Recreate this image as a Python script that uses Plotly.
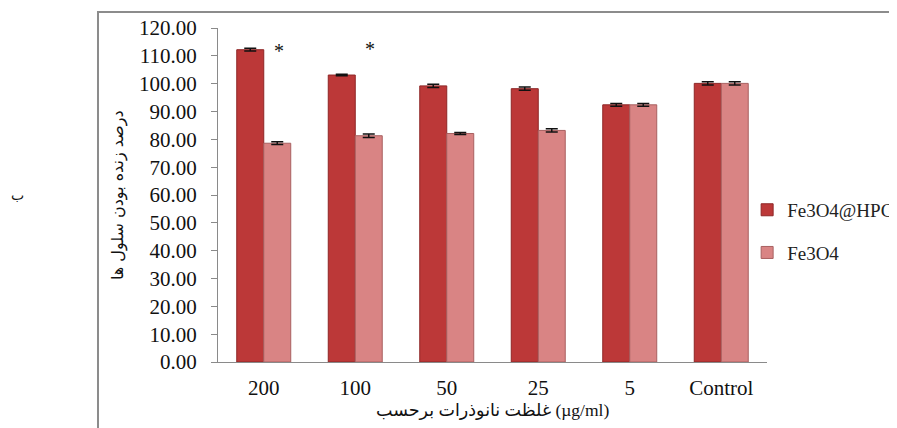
import plotly.graph_objects as go

categories = ["200", "100", "50", "25", "5", "Control"]
hpg_values = [112.2, 103.1, 99.2, 98.2, 92.4, 100.1]
hpg_errors = [0.5, 0.3, 0.6, 0.6, 0.5, 0.6]
fe_values = [78.6, 81.3, 82.1, 83.2, 92.4, 100.1]
fe_errors = [0.5, 0.6, 0.4, 0.6, 0.5, 0.6]
y_ticks = [0, 10, 20, 30, 40, 50, 60, 70, 80, 90, 100, 110, 120]
y_tick_labels = ["%.2f" % v for v in y_ticks]
star_positions = [0, 1]
star_levels = [111.6, 112.3]

serif = "Liberation Serif"
arabic = "DejaVu Sans"

fig = go.Figure()
fig.add_trace(go.Bar(
    x=categories, y=hpg_values, name="Fe3O4@HPG",
    marker=dict(color="#BC3838", line=dict(color="#8E2626", width=1)),
    error_y=dict(type="data", array=hpg_errors, color="#111111", thickness=1.5, width=6),
    legendgroup="a",
))
fig.add_trace(go.Bar(
    x=categories, y=fe_values, name="Fe3O4",
    marker=dict(color="#D98484", line=dict(color="#A86060", width=1)),
    error_y=dict(type="data", array=fe_errors, color="#111111", thickness=1.5, width=6),
    legendgroup="b",
))

fig.update_layout(
    width=897, height=428,
    margin=dict(l=210, r=138, t=20, b=74, autoexpand=False),
    paper_bgcolor="white", plot_bgcolor="white",
    barmode="group", bargap=0.41, bargroupgap=0,
    font=dict(family=serif, color="#111111", size=18),
    showlegend=True,
    legend=dict(
        x=0.824, y=0.478, xref="container", yref="container",
        xanchor="left", yanchor="middle",
        font=dict(family=serif, size=19, color="#222222"),
        itemwidth=30, traceorder="grouped", tracegroupgap=15,
        bgcolor="rgba(0,0,0,0)",
    ),
    xaxis=dict(
        type="category", range=[-0.5, 5.5], autorange=False,
        showline=True, linecolor="#8a8a8a", linewidth=1,
        ticks="", tickfont=dict(family=serif, size=21, color="#111111"),
        ticklabelstandoff=7, showgrid=False, zeroline=False,
    ),
    yaxis=dict(
        range=[0, 120], autorange=False, tickvals=y_ticks, ticktext=y_tick_labels,
        showline=True, linecolor="#8a8a8a", linewidth=1,
        ticks="outside", ticklen=6, tickcolor="#8a8a8a",
        tickfont=dict(family=serif, size=21, color="#111111"),
        ticklabelstandoff=10, showgrid=False, zeroline=False,
    ),
    shapes=[dict(
        type="rect", xref="paper", yref="paper",
        x0=-0.2186, x1=1.25, y0=-0.25, y1=1.048,
        line=dict(color="#8c8c8c", width=2), fillcolor="rgba(0,0,0,0)",
        layer="below",
    )],
)

fig.add_annotation(
    text="درصد زنده بودن سلول ها", xref="paper", yref="paper",
    x=-0.182, y=0.5, textangle=-90, showarrow=False,
    font=dict(family=arabic, size=16, color="#111111"),
    xanchor="center", yanchor="middle",
)
fig.add_annotation(
    text="غلظت نانوذرات برحسب (µg/ml)", xref="paper", yref="paper",
    x=0.5, y=-0.143, showarrow=False,
    font=dict(family=serif + ", " + arabic, size=17.5, color="#111111"),
    xanchor="center", yanchor="middle",
)
fig.add_annotation(
    text="ب", xref="paper", yref="paper",
    x=-0.366, y=0.5, showarrow=False,
    font=dict(family=arabic, size=14, color="#111111"),
    xanchor="center", yanchor="middle",
)
for xi, yv in zip(star_positions, star_levels):
    fig.add_annotation(
        text="*", x=xi, y=yv, xref="x", yref="y", xshift=15,
        showarrow=False, font=dict(family=serif, size=20, color="#111111"),
        yanchor="middle",
    )

fig.write_html("out.html")
